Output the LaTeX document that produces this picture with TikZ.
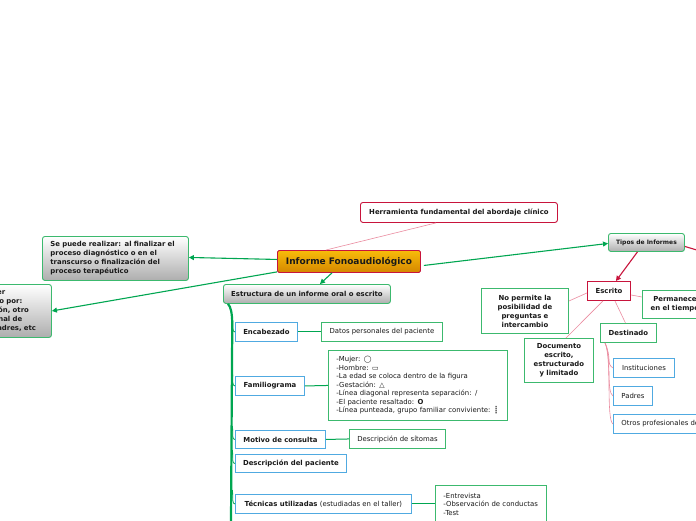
\documentclass[tikz,border=0pt]{standalone}
\usepackage{fontspec}
\setmainfont{DejaVu Sans}
\usetikzlibrary{arrows.meta}
\definecolor{grn}{RGB}{0,166,81}
\definecolor{bgrn}{RGB}{60,185,110}
\definecolor{crim}{RGB}{200,20,60}
\definecolor{pinkl}{RGB}{235,140,160}
\definecolor{blu}{RGB}{80,170,225}
\definecolor{org1}{RGB}{248,188,10}
\definecolor{org2}{RGB}{212,135,0}
\definecolor{txt}{RGB}{25,25,25}
\begin{document}
\begin{tikzpicture}[x=1pt,y=-1pt,
  bf/.style={font=\bfseries\fontsize{6.9}{9}\selectfont},
  rf/.style={font=\fontsize{6.9}{8.5}\selectfont},
  base/.style={anchor=north west, inner ysep=0pt, inner xsep=0pt, text=txt},
  gbox/.style={base, bf, draw=bgrn, line width=0.9pt, rounded corners=2.5pt, top color=white, bottom color=black!32},
  wbox/.style={base, bf, draw=bgrn, line width=0.9pt, fill=white, align=center},
  tbox/.style={base, rf, draw=bgrn, line width=0.9pt, fill=white},
  bbox/.style={base, bf, draw=blu, line width=0.9pt, fill=white},
  rbox/.style={base, bf, draw=crim, line width=0.9pt, fill=white},
  garrow/.style={draw=grn, line width=1.1pt, -{Triangle[length=5pt,width=5pt]}},
  rarrow/.style={draw=crim, line width=1.1pt, -{Triangle[length=5pt,width=5pt]}},
  pline/.style={draw=pinkl, line width=0.6pt},
  gline/.style={draw=grn, line width=1pt},
  trunk/.style={draw=grn, line width=2.2pt},
  branch/.style={draw=grn, line width=0.8pt}
]
\clip (0,0) rectangle (696,520);
\fill[white] (0,0) rectangle (696,520);

% central
\node[base, draw=crim, line width=0.9pt, rounded corners=1.5pt, top color=org1, bottom color=org2,
  font=\bfseries\fontsize{9}{11}\selectfont, minimum width=143pt, minimum height=22pt] (inf) at (277,250) {Informe Fonoaudiológico};
\node[rbox, rounded corners=2.5pt, minimum width=197pt, minimum height=20pt] (herr) at (360,202) {Herramienta fundamental del abordaje clínico};
\node[gbox, text width=130pt, inner xsep=8pt, align=left, minimum height=44pt] (se) at (42,236) {Se puede realizar: al finalizar el\\proceso diagnóstico o en el\\transcurso o finalización del\\proceso terapéutico};
\node[gbox, text width=77pt, inner xsep=8pt, align=left, minimum height=53pt] (sol) at (-42,284) {Puede ser\\solicitado por:\\institución, otro\\profesional de\\salud, padres, etc};
\node[gbox, minimum width=167pt, minimum height=19pt] (est) at (223,284) {Estructura de un informe oral o escrito};
\node[gbox, minimum width=76pt, minimum height=18pt, font=\bfseries\fontsize{6}{8}\selectfont] (tipos) at (608,233) {Tipos de Informes};

% Tipos branch
\node[rbox, minimum width=43pt, minimum height=19pt] (esc) at (587,281) {Escrito};
\node[wbox, text width=87pt, minimum height=45pt] (nop) at (481,288) {No permite la\\posibilidad de\\preguntas e\\intercambio};
\node[wbox, text width=65pt, minimum height=28pt] (perm) at (642,290) {Permanece\\en el tiempo};
\node[wbox, minimum width=56pt, minimum height=19pt] (dest) at (600,323) {Destinado};
\node[wbox, text width=69pt, minimum height=44pt] (doc) at (524,338) {Documento\\escrito,\\estructurado\\y limitado};
\node[bbox, rf, minimum width=61pt, minimum height=19pt] (inst) at (613,358) {Instituciones};
\node[bbox, rf, minimum width=39pt, minimum height=19pt] (pad) at (613,386) {Padres};
\node[bbox, rf, inner xsep=8pt, minimum height=19pt] (otr) at (613,414) {Otros profesionales de la salud};

% Estructura branch
\node[bbox, minimum width=62pt, minimum height=19pt] (enc) at (235,322) {Encabezado};
\node[bbox, minimum width=69pt, minimum height=19pt] (fam) at (235,376) {Familiograma};
\node[bbox, minimum width=90pt, minimum height=18pt] (mot) at (235,430) {Motivo de consulta};
\node[bbox, minimum width=111pt, minimum height=18pt] (des) at (235,454) {Descripción del paciente};
\node[bbox, minimum width=176pt, minimum height=19pt] (tec) at (235,494) {Técnicas utilizadas {\mdseries (estudiadas en el taller)}};
\node[tbox, minimum width=121pt, minimum height=19pt] (dat) at (321,322) {Datos personales del paciente};
\node[tbox, text width=163pt, inner xsep=8pt, align=left, minimum height=70pt] (famd) at (328,350) {-Mujer: ◯\\-Hombre: ▭\\-La edad se coloca dentro de la figura\\-Gestación: △\\-Línea diagonal representa separación: /\\-El paciente resaltado: \textbf{O}\\-Línea punteada, grupo familiar conviviente: ┋};
\node[tbox, minimum width=96pt, minimum height=19pt] (sin) at (349,429) {Descripción de sítomas};
\node[tbox, text width=95pt, inner xsep=8pt, align=left, minimum height=37pt] (tecd) at (435,485) {-Entrevista\\-Observación de conductas\\-Test};

% connectors from central
\draw[pline] ([xshift=-23pt]inf.north) -- ([xshift=-23pt]herr.south);
\draw[garrow] ([yshift=2pt]inf.west) -- ([yshift=1pt]se.east);
\draw[garrow] ([yshift=1pt]inf.south west) -- (sol.east);
\draw[garrow] ([xshift=-17pt]inf.south) -- ([xshift=13pt]est.north);
\draw[garrow] ([xshift=3pt,yshift=-4pt]inf.east) -- ([yshift=-1pt]tipos.west);
\coordinate (offr) at (700,251);
\draw[draw=crim, line width=1.1pt] ([yshift=-4pt]tipos.east) -- (offr);
\draw[rarrow] ([xshift=-9pt]tipos.south) -- ([xshift=7pt]esc.north);

% Escrito links
\draw[pline] ([yshift=-2pt]esc.west) -- ([yshift=-13pt]nop.north east);
\draw[pline] ([yshift=-4pt]esc.east) -- ([yshift=-7pt]perm.north west);
\draw[pline] ([xshift=6pt]esc.south) -- ([xshift=-3pt]dest.north);
\draw[pline] ([xshift=-6pt]esc.south) -- ([xshift=7pt]doc.north);
\foreach \n in {inst,pad,otr}{
  \draw[pline] ([xshift=5pt]dest.south west) .. controls (612,358) and ([xshift=-7pt,yshift=4pt]\n.west) .. (\n.west);
}

% trunk
\coordinate (tb) at (231,522);
\draw[trunk] ([xshift=5pt]est.south west) .. controls (234,310) and (232,330) .. (232,360) -- (tb);
\foreach \n/\yy in {enc/318,fam/372,mot/426,des/450,tec/490}{
  \draw[branch] (232.5,\yy) .. controls (233,\yy+10) and (232,\yy+13.5) .. (\n.west);
}
\draw[gline] (enc.east) -- (dat.west);
\draw[gline] (fam.east) -- (famd.west);
\draw[gline] (mot.east) -- (sin.west);
\draw[gline] (tec.east) -- (tec.east -| tecd.west);
\end{tikzpicture}
\end{document}
